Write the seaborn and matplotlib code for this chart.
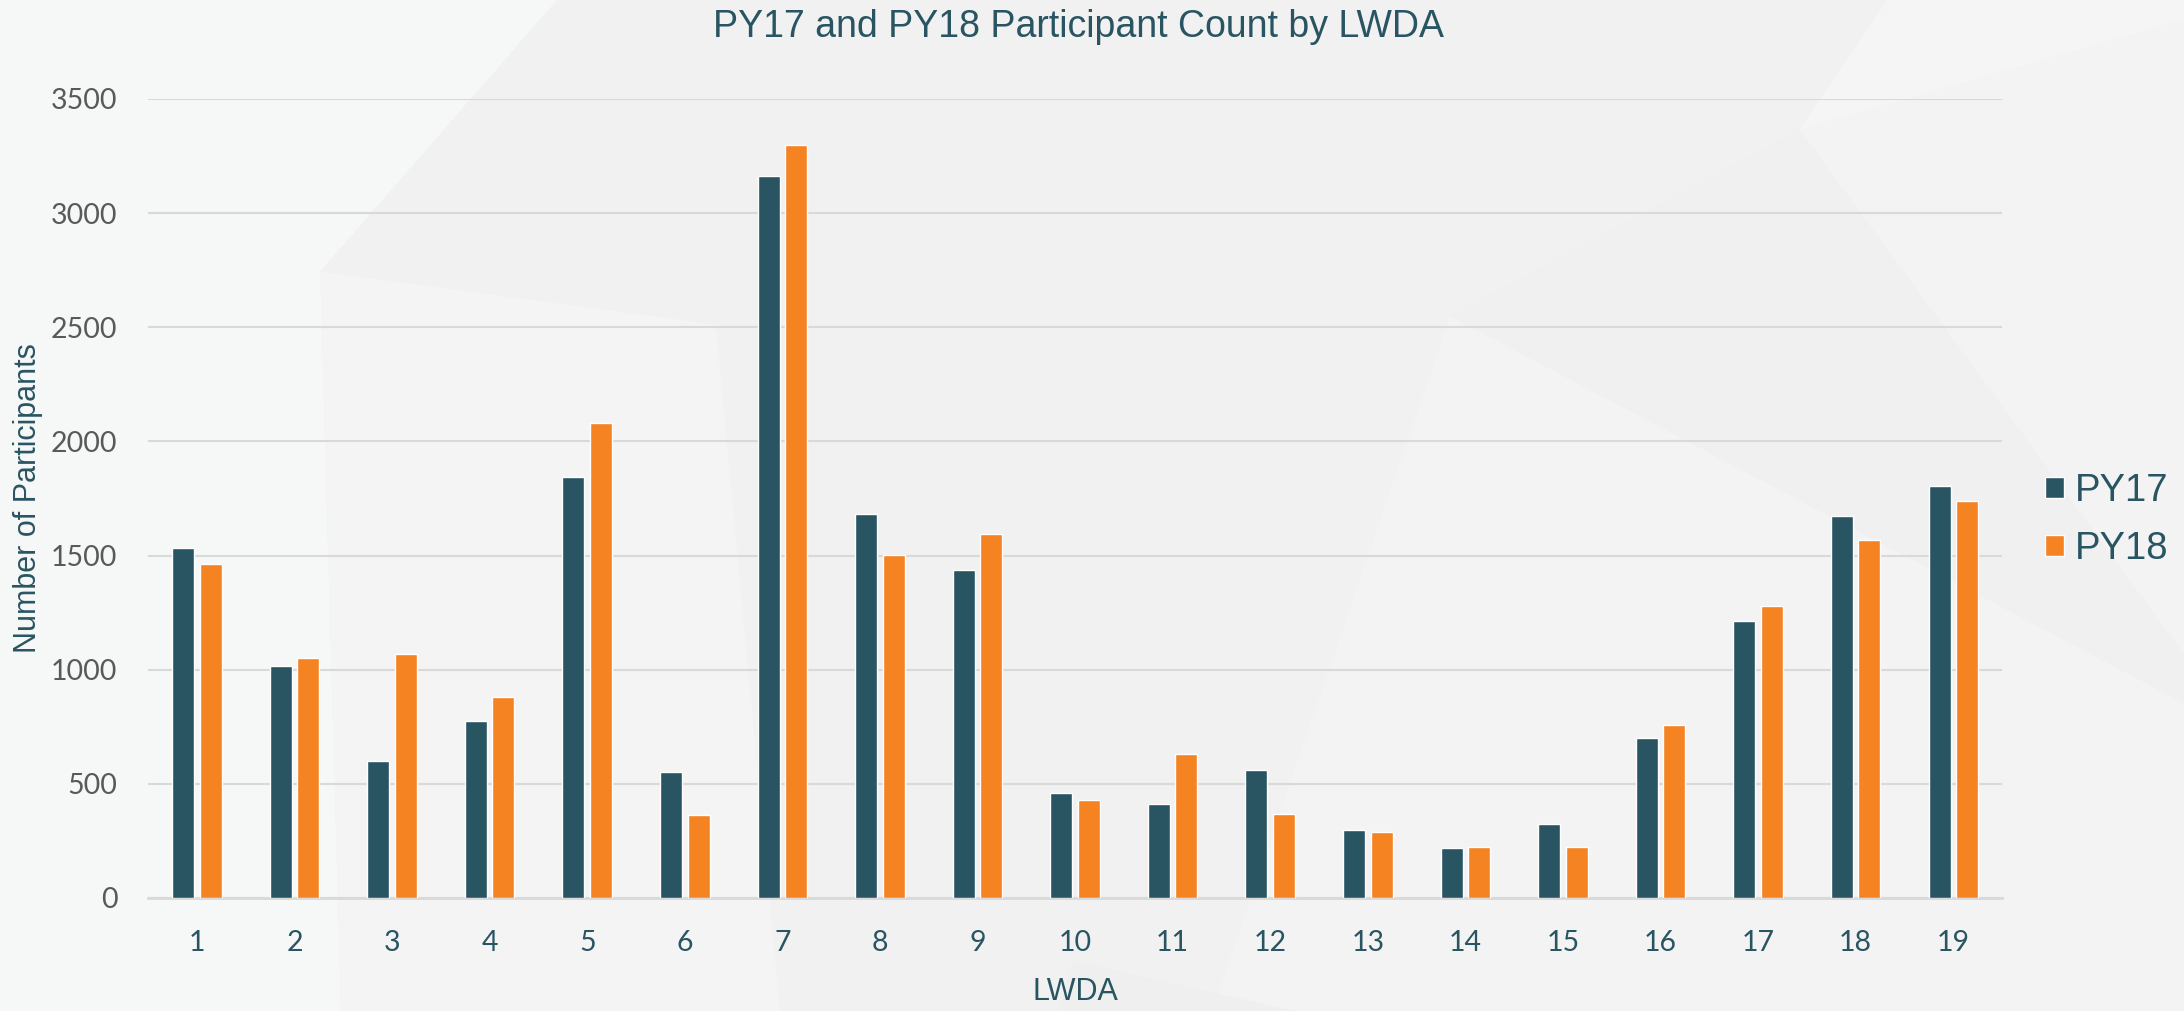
import pandas as pd
import numpy as np
import matplotlib
matplotlib.use('Agg')
import matplotlib.pyplot as plt
from matplotlib.patches import Polygon
import seaborn as sns

# data
lwda = [str(i) for i in range(1, 20)]
py17 = [1532, 1017, 600, 776, 1842, 554, 3162, 1680, 1436, 461,
        410, 559, 296, 220, 325, 700, 1213, 1674, 1806]
py18 = [1462, 1051, 1067, 881, 2079, 365, 3300, 1503, 1594, 429,
        630, 368, 289, 223, 223, 757, 1280, 1570, 1741]
years = ['PY17', 'PY18']

df = pd.DataFrame({'LWDA': lwda * 2,
                   'count': py17 + py18,
                   'year': [years[0]] * len(lwda) + [years[1]] * len(lwda)})

teal = '#295563'
orange = '#f58322'
bg = '#f3f3f3'

sns.set_theme(style='white')
plt.rcParams['font.family'] = ['Liberation Sans', 'DejaVu Sans']

fig = plt.figure(figsize=(21.84, 10.11), dpi=100, facecolor=bg)

# soft geometric background (coords given on a 1568x726 grid)
def shape(pts, color):
    pts = [(x / 1568, 1 - y / 726) for x, y in pts]
    fig.add_artist(Polygon(pts, closed=True, transform=fig.transFigure,
                           facecolor=color, edgecolor='none', zorder=-10))

shape([(0, 0), (400, 0), (230, 195), (245, 726), (0, 726)], '#f6f7f7')
shape([(400, 0), (1355, 0), (1292, 93), (1041, 227), (870, 726),
       (245, 726), (230, 195)], '#f1f1f1')
shape([(230, 195), (514, 233), (560, 726), (245, 726)], '#f4f4f4')
shape([(1292, 93), (1568, 14), (1568, 0), (1355, 0)], '#f5f5f5')
shape([(1041, 227), (1292, 93), (1568, 470), (1568, 505)], '#f0f0f0')
shape([(770, 690), (930, 726), (760, 726)], '#efefef')

ax = fig.add_axes([0.0678, 0.1118, 0.8489, 0.7903])
ax.set_facecolor('none')

sns.barplot(data=df, x='LWDA', y='count', hue='year', hue_order=years,
            palette=[teal, orange], width=0.564, gap=0.2, saturation=1,
            ax=ax, zorder=3)

ax.set_ylim(0, 3500)
ax.set_yticks(np.arange(0, 3501, 500))
ax.grid(axis='y', color='#d9d9d9', linewidth=1.5, zorder=0)
ax.set_axisbelow(True)
for s in ['top', 'right', 'left']:
    ax.spines[s].set_visible(False)
ax.spines['bottom'].set_color('#d9d9d9')
ax.spines['bottom'].set_linewidth(2)
ax.tick_params(axis='both', length=0)
ax.tick_params(axis='y', pad=22, labelcolor='#595959')
ax.tick_params(axis='x', pad=23, labelcolor=teal)
for lab in ax.get_xticklabels() + ax.get_yticklabels():
    lab.set_fontfamily('Lato')
    lab.set_fontsize(20.5)

ax.set_xlabel('LWDA', fontsize=22, color=teal, labelpad=15)
ax.set_ylabel('Number of Participants', fontsize=22, color=teal, labelpad=6)

fig.text(0.4937, 0.973, 'PY17 and PY18 Participant Count by LWDA',
         ha='center', va='center', fontsize=27, color=teal)

ax.legend_.remove()
handles, labels = ax.get_legend_handles_labels()
leg = fig.legend(handles, labels, loc='center left',
                 bbox_to_anchor=(0.9365, 0.4856), frameon=False,
                 fontsize=27.5, handlelength=0.5, handleheight=0.5,
                 handletextpad=0.28, labelspacing=0.58, borderpad=0,
                 borderaxespad=0)
for t in leg.get_texts():
    t.set_color(teal)

fig.savefig('out.png', dpi=100, facecolor=bg)
